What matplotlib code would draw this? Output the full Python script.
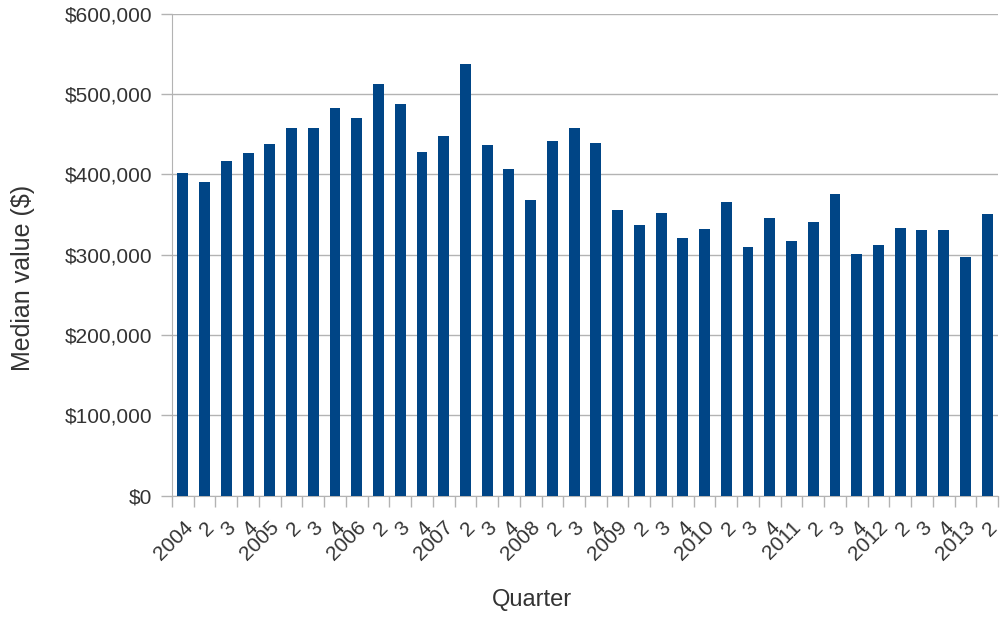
import numpy as np
import matplotlib.pyplot as plt
from matplotlib.ticker import FuncFormatter, FixedLocator
from matplotlib.transforms import ScaledTranslation

plt.rcParams['font.family'] = ['Liberation Sans', 'DejaVu Sans']

# Quarterly median values, 2004 Q1 .. 2013 Q2
labels = ['2004', '2', '3', '4', '2005', '2', '3', '4', '2006', '2', '3', '4',
          '2007', '2', '3', '4', '2008', '2', '3', '4', '2009', '2', '3', '4',
          '2010', '2', '3', '4', '2011', '2', '3', '4', '2012', '2', '3', '4',
          '2013', '2']
values = [402000, 391000, 416000, 426000, 438000, 458000, 458000, 482000,
          470000, 512000, 488000, 428000, 448000, 537000, 436000, 406000,
          368000, 441000, 458000, 439000, 355000, 337000, 352000, 321000,
          332000, 366000, 310000, 345000, 317000, 340000, 375000, 301000,
          312000, 333000, 331000, 331000, 297000, 351000]

x = np.arange(len(values))

fig = plt.figure(figsize=(10, 6.18), dpi=100)
ax = fig.add_axes([0.172, 0.198, 0.826, 0.780])

ax.bar(x, values, width=0.5, color='#004586', zorder=3)

ax.set_xlim(-0.5, len(values) - 0.5)
ax.set_ylim(0, 600000)
ax.set_yticks(np.arange(0, 600001, 100000))
ax.yaxis.set_major_formatter(FuncFormatter(lambda v, p: '${:,.0f}'.format(v)))
ax.grid(axis='y', color='#b3b3b3', linewidth=1, zorder=0)

ax.set_xticks(x)
ax.set_xticklabels(labels, rotation=45, ha='right', va='top',
                   rotation_mode='anchor', fontsize=15, color='#333333')
shift = ScaledTranslation(-4 / 100, 0, fig.dpi_scale_trans)
for lbl in ax.get_xticklabels():
    lbl.set_transform(lbl.get_transform() + shift)
ax.xaxis.set_minor_locator(FixedLocator(np.arange(-0.5, len(values), 1)))
ax.tick_params(axis='x', which='major', length=0, pad=16)
ax.tick_params(axis='x', which='minor', length=8, color='#b3b3b3', width=1)
ax.tick_params(axis='y', length=8, color='#b3b3b3', width=1, labelsize=15,
               labelcolor='#333333', pad=6)

for side in ['top', 'right']:
    ax.spines[side].set_visible(False)
ax.spines['left'].set_color('#b3b3b3')
ax.spines['bottom'].set_color('#b3b3b3')

ax.set_ylabel('Median value ($)', fontsize=18, color='#333333')
ax.yaxis.set_label_coords(-0.166, 0.452)
ax.set_xlabel('Quarter', fontsize=17, color='#333333')
ax.xaxis.set_label_coords(0.436, -0.194)

fig.savefig('out.png', dpi=100)
